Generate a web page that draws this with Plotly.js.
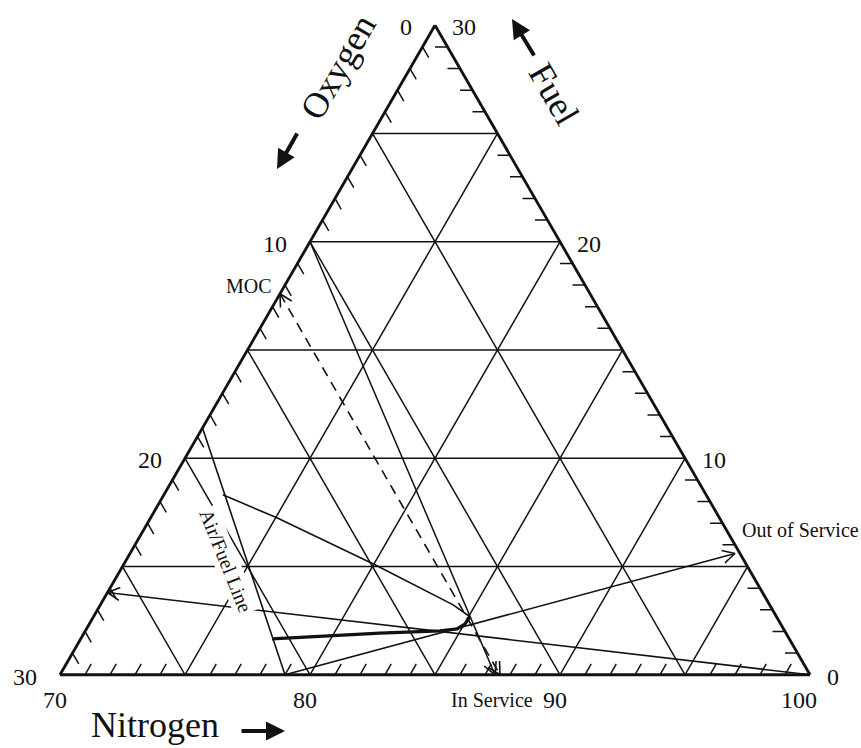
<!DOCTYPE html>
<html>
<head>
<meta charset="utf-8">
<script src="https://cdn.plot.ly/plotly-3.0.1.min.js"></script>
<style>
html, body { margin: 0; padding: 0; background: #fff; }
#chart { width: 861px; height: 748px; }
</style>
</head>
<body>
<div id="chart"></div>
<script>
// compositions in %, read as (Oxygen, Fuel, Nitrogen)
var gridVals = [5, 10, 15, 20, 25];
var hatchVals = [1, 2, 3, 4, 6, 7, 8, 9, 11, 12, 13, 14, 16, 17, 18, 19, 21, 22, 23, 24, 26, 27, 28, 29];

var oxygenTicks = [0, 10, 20, 30];      // left side, top -> bottom
var fuelTicks = [30, 20, 10, 0];        // right side, top -> bottom
var nitrogenTicks = [70, 80, 90, 100];  // bottom, left -> right

// air / fuel line
var airO = [21.0, 18.6];
var airF = [0.0, 11.4];
var airN = [79.0, 70.0];

// flammable zone, upper limit -> nose
var uflO = [19.33, 17.70, 14.86, 12.66, 12.26];
var uflF = [8.31, 7.25, 5.08, 3.23, 2.68];
var uflN = [72.36, 75.05, 80.06, 84.11, 85.06];

// flammable zone, nose -> lower limit
var lflO = [12.26, 12.62, 13.06, 13.78, 16.24, 20.69];
var lflF = [2.68, 2.35, 2.12, 2.03, 1.92, 1.66];
var lflN = [85.06, 85.03, 84.82, 84.19, 81.84, 77.65];

// MOC (dashed)
var mocO = [12.4, 12.4];
var mocF = [17.6, 0.0];
var mocN = [70.0, 87.6];

// in service line
var inO = [10.0, 12.6];
var inF = [20.0, 0.0];
var inN = [70.0, 87.4];

// out of service line
var outO = [21.0, 0.2];
var outF = [0.0, 5.6];
var outN = [79.0, 94.2];

// nitrogen dilution line
var dilO = [0.0, 26.2];
var dilF = [0.0, 3.8];
var dilN = [100.0, 70.0];

var W = 861, H = 748;
var S3 = Math.sqrt(3) / 2;
function toXY(o, f, n) { return [n - 70 + f / 2, f * S3]; }
function fromXY(x, y) { var f = y / S3, n = x - f / 2 + 70; return [100 - f - n, f, n]; }
// triangle is 750 px wide, bottom-left corner at (60, 675)
function toPaper(o, f, n) {
	var p = toXY(o, f, n);
	return [(60 + 25 * p[0]) / W, 1 - (675 - 25 * p[1]) / H];
}

function newLine(width, dash) {
	return {
		type : 'scatterternary',
		mode : 'lines',
		a : [], b : [], c : [],
		line : { color : '#111', width : width, dash : dash || 'solid' },
		hoverinfo : 'skip'
	};
}
function put(tr, o, f, n) { tr.a.push(f); tr.b.push(o); tr.c.push(n); }
function gap(tr) { tr.a.push(null); tr.b.push(null); tr.c.push(null); }
function series(O, F, N, width, dash) {
	var tr = newLine(width, dash);
	for (var i = 0; i < O.length; i++) put(tr, O[i], F[i], N[i]);
	return tr;
}

// open arrowhead at one end of a series
var heads = newLine(1.6);
var headLen = 0.55, headAng = 28 * Math.PI / 180;
function addHead(O, F, N, atStart) {
	var k = atStart ? 0 : O.length - 1;
	var j = atStart ? 1 : O.length - 2;
	var p = toXY(O[k], F[k], N[k]), q = toXY(O[j], F[j], N[j]);
	var dx = p[0] - q[0], dy = p[1] - q[1], d = Math.sqrt(dx * dx + dy * dy);
	dx /= d; dy /= d;
	gap(heads);
	[headAng, -headAng].forEach(function(t, i) {
		var wx = p[0] - headLen * (dx * Math.cos(t) - dy * Math.sin(t));
		var wy = p[1] - headLen * (dx * Math.sin(t) + dy * Math.cos(t));
		var w = fromXY(wx, wy);
		put(heads, w[0], w[1], w[2]);
		if (i === 0) put(heads, O[k], F[k], N[k]);
	});
}

// grid every 5 %
var grid = newLine(1.5);
gridVals.forEach(function(v) {
	put(grid, 30 - v, v, 70); put(grid, 0, v, 100 - v); gap(grid);        // constant fuel
	put(grid, v, 30 - v, 70); put(grid, v, 0, 100 - v); gap(grid);        // constant oxygen
	put(grid, v, 0, 100 - v); put(grid, 0, v, 100 - v); gap(grid);        // constant nitrogen
});

// hatch marks every 1 %, pointing inside
var hatch = newLine(1.5);
var hl = 0.5;
hatchVals.forEach(function(v) {
	put(hatch, v, 30 - v, 70); put(hatch, v, 30 - v - hl, 70 + hl); gap(hatch);  // oxygen side
	put(hatch, 30 - v, 0, 70 + v); put(hatch, 30 - v - hl, hl, 70 + v); gap(hatch); // nitrogen side
	put(hatch, 0, v, 100 - v); put(hatch, hl, v, 100 - v - hl); gap(hatch);  // fuel side
});

addHead(mocO, mocF, mocN, true);
addHead(mocO, mocF, mocN, false);
addHead(inO, inF, inN, false);
addHead(outO, outF, outN, false);
addHead(dilO, dilF, dilN, false);

var data = [
	grid,
	hatch,
	series(airO, airF, airN, 1.6),
	series(uflO, uflF, uflN, 1.6),
	series(lflO, lflF, lflN, 3.2),
	series(mocO, mocF, mocN, 1.6, '10px,7px'),
	series(inO, inF, inN, 1.5),
	series(outO, outF, outN, 1.5),
	series(dilO, dilF, dilN, 1.5),
	heads
];

function edgeAxis(min) {
	return {
		min : min,
		showticklabels : false,
		ticks : '',
		showgrid : false,
		showline : true,
		linewidth : 2.8,
		linecolor : '#111',
		title : { text : '' }
	};
}

function label(text, px, py, size, extra) {
	var an = {
		xref : 'paper', yref : 'paper',
		x : px / W, y : 1 - py / H,
		xanchor : 'center', yanchor : 'middle',
		text : text, showarrow : false,
		font : { size : size, color : '#111' }
	};
	for (var k in extra) an[k] = extra[k];
	return an;
}
function bigArrow(tipX, tipY, ax, ay) {
	return {
		xref : 'paper', yref : 'paper',
		x : tipX / W, y : 1 - tipY / H,
		ax : ax, ay : ay, text : '',
		showarrow : true, arrowhead : 2, arrowsize : 0.95, arrowwidth : 4,
		arrowcolor : '#111', standoff : 0
	};
}
function tickLabel(val, pos, xanchor, xshift, yshift) {
	return {
		xref : 'paper', yref : 'paper',
		x : pos[0], y : pos[1],
		xanchor : xanchor, yanchor : 'middle',
		xshift : xshift, yshift : yshift,
		text : String(val), showarrow : false,
		font : { size : 24, color : '#111' }
	};
}

var annotations = [];
oxygenTicks.forEach(function(v) {
	annotations.push(tickLabel(v, toPaper(v, 30 - v, 70), 'right', -21, -2));
});
fuelTicks.forEach(function(v) {
	annotations.push(tickLabel(v, toPaper(0, v, 100 - v), 'left', 15, -2));
});
nitrogenTicks.forEach(function(v) {
	annotations.push(tickLabel(v, toPaper(100 - v, 0, v), 'right', 9, -25));
});

annotations.push(
	label('Oxygen', 338, 67, 36, { textangle : -60 }),
	bigArrow(277, 169, 21, -37),
	label('Fuel', 554, 94, 36, { textangle : 60 }),
	bigArrow(512, 19, 23, 38),
	label('Nitrogen', 155, 725, 36),
	bigArrow(285, 731, -45, 0),
	label('MOC', 249, 286, 20),
	label('Out of Service', 740, 530, 20, { xanchor : 'left' }),
	label('In Service', 492, 700, 20),
	label('Air/Fuel Line', 226, 561, 20, { textangle : 68, bgcolor : '#fff' })
);

var layout = {
	width : W,
	height : H,
	margin : { l : 0, r : 0, t : 0, b : 0 },
	paper_bgcolor : '#fff',
	showlegend : false,
	font : { family : '"Liberation Serif", "Times New Roman", serif', color : '#111' },
	ternary : {
		domain : { x : [60 / W, 810 / W], y : [73 / H, 723 / H] },
		sum : 100,
		bgcolor : '#fff',
		aaxis : edgeAxis(0),
		baxis : edgeAxis(0),
		caxis : edgeAxis(70)
	},
	annotations : annotations
};

Plotly.newPlot('chart', data, layout, { displayModeBar : false, staticPlot : true });
</script>
</body>
</html>
